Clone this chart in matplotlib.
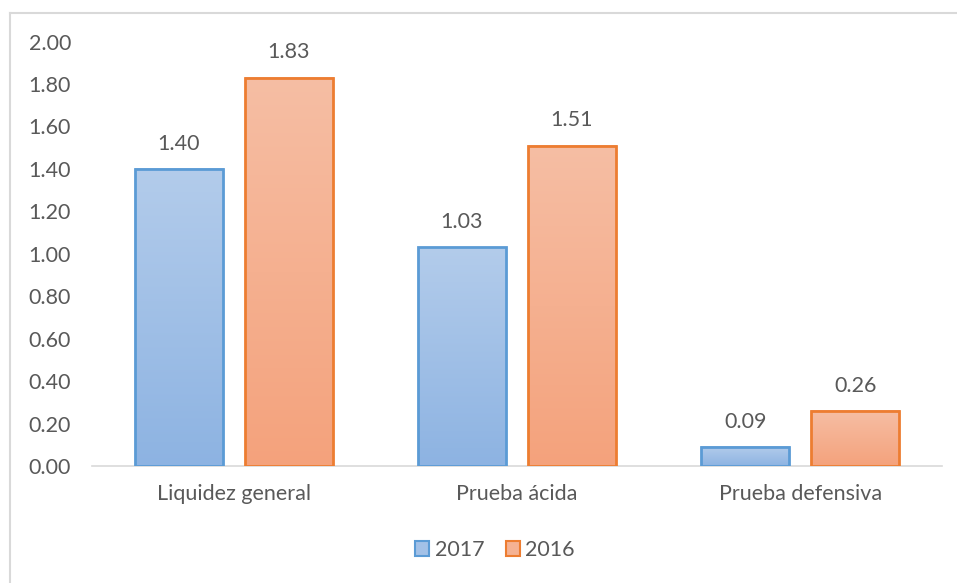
import matplotlib
matplotlib.use("Agg")
import matplotlib.pyplot as plt
import numpy as np
from matplotlib.patches import Patch
from matplotlib.colors import LinearSegmentedColormap
from matplotlib.lines import Line2D

categories = ["Liquidez general", "Prueba ácida", "Prueba defensiva"]
series_names = ["2017", "2016"]
values_2017 = [1.40, 1.03, 0.09]
values_2016 = [1.83, 1.51, 0.26]
yticks = [0.0, 0.2, 0.4, 0.6, 0.8, 1.0, 1.2, 1.4, 1.6, 1.8, 2.0]

plt.rcParams['font.family'] = ['Lato', 'DejaVu Sans']
txt = '#595959'
fs = 15.5

W, H = 957, 583
fig = plt.figure(figsize=(W/100, H/100), dpi=100)
ax = fig.add_axes([92/W, 117/H, (942-92)/W, (466-41.5)/H])

x = np.arange(len(categories))
bw = 0.311
off = 0.194
styles = [
    dict(edge='#5b9bd5', top='#b3cceb', bot='#8db3e2'),
    dict(edge='#ed7d31', top='#f6bea4', bot='#f4a27c'),
]
grad = np.linspace(0, 1, 256).reshape(-1, 1)
for i, (vals, st) in enumerate(zip([values_2017, values_2016], styles)):
    xs = x + (-off if i == 0 else off)
    bars = ax.bar(xs, vals, bw, facecolor='none', edgecolor=st['edge'], linewidth=2, zorder=3)
    cmap = LinearSegmentedColormap.from_list('g%d' % i, [st['bot'], st['top']])
    for b, v in zip(bars, vals):
        x0 = b.get_x(); x1 = x0 + b.get_width()
        ax.imshow(grad, extent=[x0, x1, 0, v], origin='lower', cmap=cmap,
                  aspect='auto', zorder=2, interpolation='bilinear')
        ax.annotate(f"{v:.2f}", (b.get_x() + b.get_width()/2, v), xytext=(0, 11),
                    textcoords='offset points', ha='center', va='bottom',
                    fontsize=fs, color=txt)

ax.set_xlim(-0.5, 2.5)
ax.set_ylim(0, 2.0)
ax.set_yticks(yticks)
ax.set_yticklabels([f"{t:.2f}" for t in yticks])
ax.set_xticks(x)
ax.set_xticklabels(categories)
ax.tick_params(axis='both', length=0, labelsize=fs, labelcolor=txt)
ax.tick_params(axis='y', pad=15)
ax.tick_params(axis='x', pad=13)
for s in ['top', 'right', 'left']:
    ax.spines[s].set_visible(False)
ax.spines['bottom'].set_color('#d9d9d9')
ax.spines['bottom'].set_linewidth(1.2)
ax.spines['bottom'].set_zorder(1)

handles = [Patch(facecolor='#a3c1e7', edgecolor='#5b9bd5', linewidth=1.5),
           Patch(facecolor='#f5b293', edgecolor='#ed7d31', linewidth=1.5)]
fig.legend(handles, series_names, loc='center', bbox_to_anchor=(495/W, 33/H), ncol=2,
           frameon=False, fontsize=fs, labelcolor=txt, handlelength=0.65,
           handleheight=0.65, handletextpad=0.25, columnspacing=1.0)

# chart border (top & left visible)
fig.add_artist(Line2D([9.5/W, 9.5/W], [0, 1 - 12.5/H], transform=fig.transFigure,
                      color='#d9d9d9', linewidth=1.5))
fig.add_artist(Line2D([9.5/W, 1], [1 - 12.5/H, 1 - 12.5/H], transform=fig.transFigure,
                      color='#d9d9d9', linewidth=1.5))

fig.savefig("out.png", dpi=100)
